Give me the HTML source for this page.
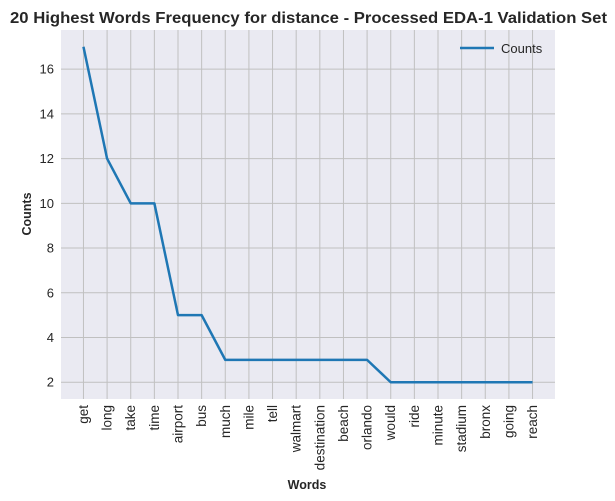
<!DOCTYPE html>
<html><head><meta charset="utf-8"><style>
body{margin:0;background:#fff;}
svg{display:block;font-family:"Liberation Sans",Arial,sans-serif;}
</style></head><body>
<svg id="chart" width="615" height="501">
<rect x="61" y="30" width="494" height="369" fill="#eaeaf2"/>
<g id="grid"></g><g id="ticks"></g>
<polyline id="line" fill="none" stroke="#1f77b4" stroke-width="2.5" stroke-linejoin="round"/>
<text x="10" y="23" textLength="597" lengthAdjust="spacingAndGlyphs" font-size="15.5" font-weight="bold" fill="#262626">20 Highest Words Frequency for distance - Processed EDA-1 Validation Set</text>
<text transform="translate(31,214) rotate(-90)" text-anchor="middle" font-size="12.5" font-weight="bold" fill="#262626">Counts</text>
<text x="307" y="489" text-anchor="middle" font-size="12.5" font-weight="bold" fill="#262626">Words</text>
<g>
<line x1="460" y1="48" x2="494" y2="48" stroke="#1f77b4" stroke-width="2.5"/>
<text x="501" y="53" font-size="13" fill="#262626">Counts</text>
</g>
</svg>
<script>
const words=["get","long","take","time","airport","bus","much","mile","tell","walmart","destination","beach","orlando","would","ride","minute","stadium","bronx","going","reach"];
const counts=[17,12,10,10,5,5,3,3,3,3,3,3,3,2,2,2,2,2,2,2];
const yTicks=[2,4,6,8,10,12,14,16];
const L=61,R=555,T=30,B=399,xmin=-0.95,xmax=19.95,ymin=1.25,ymax=17.75;
const xs=i=>L+(i-xmin)/(xmax-xmin)*(R-L);
const ys=v=>B-(v-ymin)/(ymax-ymin)*(B-T);
const NS="http://www.w3.org/2000/svg";
const grid=document.getElementById('grid'),ticks=document.getElementById('ticks');
function mk(tag,a,p){const e=document.createElementNS(NS,tag);for(const k in a)e.setAttribute(k,a[k]);p.appendChild(e);return e;}
yTicks.forEach(v=>{
 const l=mk('line',{x1:L,x2:R,y1:ys(v),y2:ys(v),stroke:'#c0c0c0','stroke-width':1},grid);
 
 
 const t=mk('text',{x:L-7,y:ys(v)+4.5,'text-anchor':'end','font-size':13,fill:'#262626'},ticks);
 t.textContent=v;
 
 
});
words.forEach((w,i)=>{
 const l=mk('line',{x1:xs(i),x2:xs(i),y1:T,y2:B,stroke:'#c0c0c0','stroke-width':1},grid);
 
 
 const t=mk('text',{transform:`translate(${xs(i)+4.5},${B+6}) rotate(-90)`,'text-anchor':'end','font-size':13.5,fill:'#262626'},ticks);
 t.textContent=w;
 
 
});
document.getElementById('line').setAttribute('points',counts.map((c,i)=>xs(i)+','+ys(c)).join(' '));
</script>
</body></html>
